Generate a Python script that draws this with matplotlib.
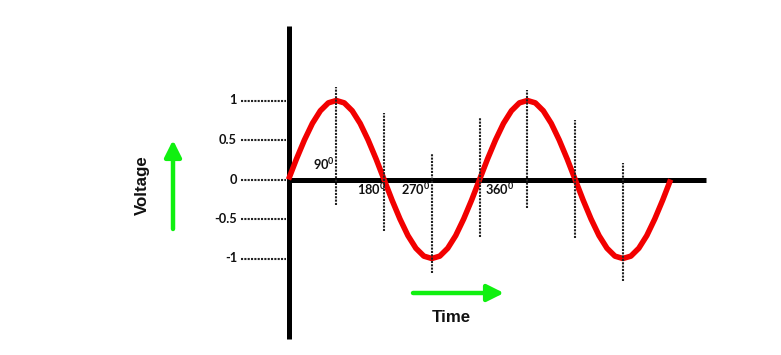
import matplotlib
matplotlib.use("Agg")
import matplotlib.pyplot as plt

# ---------------- data ----------------
degrees = list(range(0, 721, 15))
voltage = [0.00, 0.26, 0.50, 0.71, 0.87, 0.97, 1.00, 0.97, 0.87, 0.71, 0.50, 0.26,
           0.00, -0.26, -0.50, -0.71, -0.87, -0.97, -1.00, -0.97, -0.87, -0.71, -0.50, -0.26,
           0.00, 0.26, 0.50, 0.71, 0.87, 0.97, 1.00, 0.97, 0.87, 0.71, 0.50, 0.26,
           0.00, -0.26, -0.50, -0.71, -0.87, -0.97, -1.00, -0.97, -0.87, -0.71, -0.50, -0.26,
           0.00]
guide_deg = [90, 180, 270, 360, 450, 540, 630]
guide_top = [1.17, 0.84, 0.32, 0.78, 1.13, 0.75, 0.21]
guide_bottom = [-0.32, -0.65, -1.18, -0.73, -0.36, -0.74, -1.28]
ytick_vals = [1, 0.5, 0, -0.5, -1]
ytick_labels = ["1", "0.5", "0", "-0.5", "-1"]
angle_labels = [r"$\mathbf{90^{0}}$", r"$\mathbf{180^{0}}$", r"$\mathbf{270^{0}}$", r"$\mathbf{360^{0}}$"]

# ---------------- layout ----------------
W, H = 781, 355
plt.rcParams["mathtext.fontset"] = "custom"
plt.rcParams["mathtext.rm"] = "Lato"
plt.rcParams["mathtext.bf"] = "Lato:bold"

fig = plt.figure(figsize=(W / 100, H / 100), dpi=100)
ax = fig.add_axes([0, 0, 1, 1])
ax.set_axis_off()

X0, K = 288.5, 0.5308                   # pixel of 0 deg, px per deg
Y0, S = 179.5, 79.0                     # pixel of 0 V, px per volt
ax.set_xlim(-X0 / K, (W - X0) / K)
ax.set_ylim((Y0 - H) / S, Y0 / S)

def dx(px):
    return (px - X0) / K

def dy(py):
    return (Y0 - py) / S

# axes lines
ax.plot([0, 0], [dy(26), dy(339)], color="black", lw=3.6, solid_capstyle="butt", zorder=2)
ax.plot([0, dx(706)], [0, 0], color="black", lw=3.6, solid_capstyle="butt", zorder=2)

# sine curve
ax.plot(degrees, voltage, color="#f20000", lw=4.0, solid_capstyle="butt",
        solid_joinstyle="round", zorder=3)

# dotted guides
for d, t, b in zip(guide_deg, guide_top, guide_bottom):
    ax.plot([d, d], [b, t], color="#222222", lw=1.5, linestyle=(0, (1, 0.6)),
            dash_capstyle="butt", zorder=4)

# y ticks (dotted leaders + labels)
for v, lab in zip(ytick_vals, ytick_labels):
    ax.plot([dx(241), dx(286)], [v, v], color="#222222", lw=1.5,
            linestyle=(0, (1, 0.6)), dash_capstyle="butt", clip_on=False, zorder=4)
    ax.text(dx(237), v, lab, ha="right", va="center", fontsize=9.2,
            fontweight="bold", family="Lato", color="#111111")

# angle labels
label_pos = [(313, 170), (357, 195), (401, 195), (485, 195)]
for (px, py), lab in zip(label_pos, angle_labels):
    ax.text(dx(px), dy(py), lab, ha="left", va="baseline", fontsize=9.2, color="#111111")

# axis titles
fig.text(142 / W, 1 - 185 / H, "Voltage", rotation=90, ha="center", va="center",
         fontsize=12.2, fontweight="bold", family="Liberation Sans", color="#111111")
fig.text(451 / W, 1 - 318 / H, "Time", ha="center", va="center",
         fontsize=12.2, fontweight="bold", family="Liberation Sans", color="#111111")

# green arrows
green = "#10f010"
ax.annotate("", xy=(173, H - 140), xytext=(173, H - 229), xycoords="figure pixels",
            arrowprops=dict(arrowstyle="-|>", color=green, lw=3.2, mutation_scale=25,
                            shrinkA=0, shrinkB=0))
ax.annotate("", xy=(504, H - 293), xytext=(413, H - 293), xycoords="figure pixels",
            arrowprops=dict(arrowstyle="-|>", color=green, lw=3.2, mutation_scale=25,
                            shrinkA=0, shrinkB=0))

fig.savefig("out.png", dpi=100)
